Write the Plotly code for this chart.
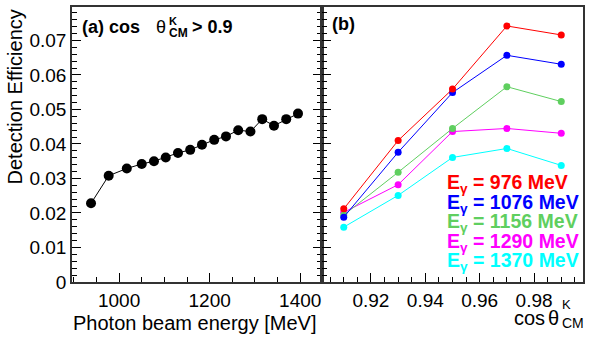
import plotly.graph_objects as go

# panel (a): efficiency vs photon beam energy, cos theta_CM^K > 0.9
energy = [938, 977, 1017, 1050, 1077, 1103, 1130, 1157, 1183, 1210, 1236, 1263, 1290, 1316, 1342, 1369, 1395]
eff = [0.0228, 0.0308, 0.0329, 0.0342, 0.0350, 0.0361, 0.0374, 0.0383, 0.0398, 0.0412,
       0.0422, 0.0440, 0.0436, 0.0472, 0.0453, 0.0472, 0.0488]

# panel (b): efficiency vs cos theta for several photon energies
cos_bins = [0.91, 0.93, 0.95, 0.97, 0.99]
eff_976 = [0.0212, 0.0410, 0.0559, 0.0742, 0.0716]
eff_1076 = [0.0188, 0.0376, 0.0549, 0.0657, 0.0631]
eff_1156 = [0.0194, 0.0318, 0.0445, 0.0566, 0.0523]
eff_1290 = [0.0202, 0.0282, 0.0436, 0.0445, 0.0431]
eff_1370 = [0.0159, 0.0251, 0.0361, 0.0387, 0.0338]
labels_b = ["976", "1076", "1156", "1290", "1370"]
colors_b = ["#ff0000", "#0000ff", "#5fcf5f", "#ff00ff", "#00ffff"]

W, H = 598, 338
L, R, T, B = 72, 15, 5, 56
pw, ph = W - L - R, H - T - B
split = (322 - L) / pw


def px(x):
    return (x - L) / pw


def py(y):
    return (T + ph - y) / ph


FONT = "Liberation Sans, Arial, sans-serif"

fig = go.Figure()
fig.add_trace(go.Scatter(x=energy, y=eff, mode="lines+markers",
                         line=dict(color="black", width=1),
                         marker=dict(color="black", size=10),
                         xaxis="x", yaxis="y", showlegend=False))

series_b = [eff_976, eff_1076, eff_1156, eff_1290, eff_1370]
for vals, col in reversed(list(zip(series_b, colors_b))):
    fig.add_trace(go.Scatter(x=cos_bins, y=vals, mode="lines+markers",
                             line=dict(color=col, width=1),
                             marker=dict(color=col, size=7),
                             xaxis="x2", yaxis="y2", showlegend=False))

frame = "#333333"
tickfont = dict(family=FONT, size=19, color="black")
common = dict(ticks="inside", showline=True, linecolor=frame, linewidth=1.5,
              tickcolor="black", showgrid=False, zeroline=False, tickfont=tickfont)

ann = []
# axis titles
ann.append(dict(text="Photon beam energy [MeV]", x=px(318), y=py(323), xanchor="right",
                yanchor="middle", font=dict(family=FONT, size=20)))
ann.append(dict(text="Detection Efficiency", x=px(15), y=py(6), xanchor="center",
                yanchor="top", textangle=-90, font=dict(family=FONT, size=20)))
ann.append(dict(text="cos", x=px(512), y=py(318), xanchor="left", yanchor="middle",
                font=dict(family=FONT, size=20)))
ann.append(dict(text="θ", x=px(546), y=py(318), xanchor="left", yanchor="middle",
                font=dict(family=FONT, size=20)))
ann.append(dict(text="K", x=px(560), y=py(305), xanchor="left", yanchor="middle",
                font=dict(family=FONT, size=13)))
ann.append(dict(text="CM", x=px(560), y=py(323), xanchor="left", yanchor="middle",
                font=dict(family=FONT, size=14)))
# panel labels
ann.append(dict(text="<b>(a) cos</b>", x=px(80), y=py(25), xanchor="left", yanchor="middle",
                font=dict(family=FONT, size=18)))
ann.append(dict(text="θ", x=px(154), y=py(25), xanchor="left", yanchor="middle",
                font=dict(family=FONT, size=18)))
ann.append(dict(text="<b>K</b>", x=px(167), y=py(19), xanchor="left", yanchor="middle",
                font=dict(family=FONT, size=11)))
ann.append(dict(text="<b>CM</b>", x=px(167), y=py(31), xanchor="left", yanchor="middle",
                font=dict(family=FONT, size=12)))
ann.append(dict(text="<b>> 0.9</b>", x=px(190), y=py(25), xanchor="left", yanchor="middle",
                font=dict(family=FONT, size=18)))
ann.append(dict(text="<b>(b)</b>", x=px(330), y=py(22), xanchor="left", yanchor="middle",
                font=dict(family=FONT, size=18)))
# energy labels
for i, (lab, col) in enumerate(zip(labels_b, colors_b)):
    ann.append(dict(text="<b>E<sub>γ</sub> = " + lab + " MeV</b>", x=px(445), y=py(183 + 19.7 * i),
                    xanchor="left", yanchor="middle",
                    font=dict(family=FONT, size=19.5, color=col)))
for a in ann:
    a.update(xref="paper", yref="paper", showarrow=False)

fig.update_layout(
    width=W, height=H,
    margin=dict(l=L, r=R, t=T, b=B),
    paper_bgcolor="white", plot_bgcolor="white",
    font=dict(family=FONT, color="black"),
    xaxis=dict(domain=[0, split], range=[896, 1448], tick0=0, dtick=200, ticklen=9,
               minor=dict(dtick=50, ticklen=5, ticks="inside", tickcolor="black"),
               mirror=True, anchor="y", **common),
    xaxis2=dict(domain=[split, 1], range=[0.902, 0.998], tick0=0, dtick=0.02, ticklen=9,
                tickformat=".2f",
                minor=dict(dtick=0.005, ticklen=5, ticks="inside", tickcolor="black"),
                mirror=True, anchor="y2", **common),
    yaxis=dict(range=[0, 0.0797], tick0=0, dtick=0.01, ticklen=9,
               minor=dict(dtick=0.002, ticklen=5, ticks="inside", tickcolor="black"),
               mirror="ticks", anchor="x", **common),
    yaxis2=dict(range=[0, 0.0797], tick0=0, dtick=0.01, ticklen=9,
                minor=dict(dtick=0.002, ticklen=5, ticks="inside", tickcolor="black"),
                showticklabels=False, mirror=True, anchor="x2", **common),
    annotations=ann,
)

fig.write_html("out.html", config={"displayModeBar": False},
               post_script="document.body.style.margin='0';")
